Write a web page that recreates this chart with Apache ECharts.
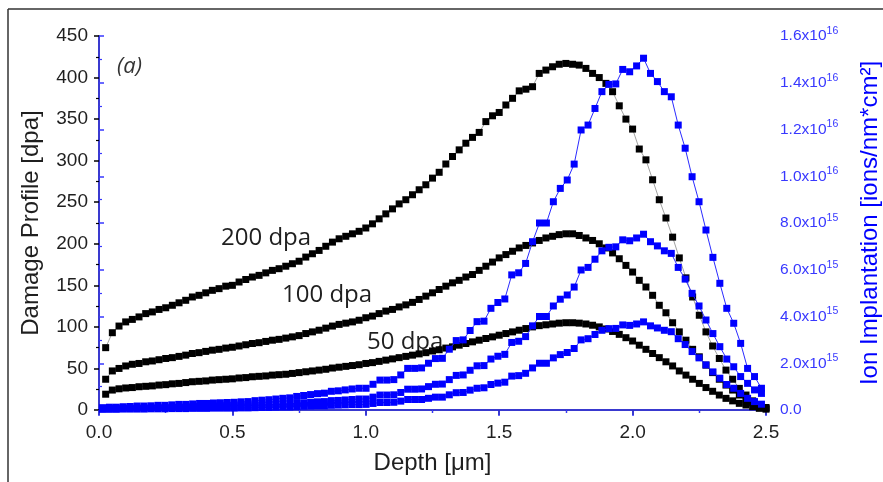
<!DOCTYPE html>
<html><head><meta charset="utf-8">
<script src="https://cdn.jsdelivr.net/npm/echarts@6/dist/echarts.min.js"></script>
<style>html,body{margin:0;padding:0;background:#fff}#c{width:883px;height:482px}</style>
</head><body><div id="c"></div>
<script>
// Depth grid of the damage (dpa) profiles, in micrometres
const depthDamage = [0.025,0.05,0.075,0.1,0.125,0.15,0.175,0.2,0.225,0.25,0.275,0.3,0.325,0.35,0.375,0.4,0.425,0.45,0.475,0.5,
0.525,0.55,0.575,0.6,0.625,0.65,0.675,0.7,0.725,0.75,0.775,0.8,0.825,0.85,0.875,0.9,0.925,0.95,0.975,1.0,
1.025,1.05,1.075,1.1,1.125,1.15,1.175,1.2,1.225,1.25,1.275,1.3,1.325,1.35,1.375,1.4,1.425,1.45,1.475,1.5,
1.525,1.55,1.575,1.6,1.625,1.65,1.675,1.7,1.725,1.75,1.775,1.8,1.825,1.85,1.875,1.9,1.925,1.95,1.975,2.0,
2.025,2.05,2.075,2.1,2.125,2.15,2.175,2.2,2.225,2.25,2.275,2.3,2.325,2.35,2.375,2.4,2.425,2.45,2.475,2.5];
const dpa200 = [75,93,101,106,109,112,116,118,121,123,126,129,132,136,138,141,144,146,149,150,
154,157,160,162,165,168,170,173,176,179,184,188,192,197,202,206,209,212,215,219,
224,230,236,242,248,253,259,265,271,279,286,296,305,313,321,328,334,347,354,358,
367,375,384,386,389,405,409,413,416,417,416,415,411,405,400,393,383,366,350,338,
314,301,277,253,231,208,183,159,136,114,94,77,62,48,37,26,18,11,6,3];
const dpa100 = [37,47,50,53,55,56,58,59,60.5,62,63,64.5,66,68,69,70.5,72,73,74.5,75.5,
77,78.5,80,81,82.5,84,85,86.5,88,89.5,92,94,96,98.5,101,103,104.5,106,108,111,
113,116,119,121,124,126.5,129.5,133,137,141,145,149,153,156,160,163,168,173,178,183,
187,191,195,198,201,204,207,209,211,212,212,210,207,204,200,195,189,182,174,166,
156,148,138,126,117,105,94,84,73,64,54,45,37,30,24,18,13,9,5,2];
const dpa50 = [19,24,25.5,26.5,27,28,28.5,29,30,30.5,31.5,32,33,34,34.5,35,36,36.5,37,37.5,
38.5,39,40,40.5,41,42,42.5,43,44,45,46,47,48,49,50.5,51.5,52.5,53.5,54.5,56,
57,58.5,60,61.5,63,64.5,66,67.5,69,71,72.5,74.5,76,78,80,82,84,86,88,90,
92,94,96,98,100,101.5,102.5,103.5,104.5,105,105,104.5,103.5,102,100,97.5,94.5,91,87,83,
78,73,68,63,58,53,47,42,37,32,27,22.5,18,14,11,8,6,4,2,1];

// Depth grid of the ion implantation profiles, in micrometres
const depthIon = [0.013,0.039,0.065,0.091,0.117,0.143,0.169,0.195,0.221,0.247,0.273,0.299,0.325,0.351,0.377,0.403,0.429,0.455,0.481,0.507,
0.533,0.559,0.585,0.611,0.637,0.663,0.689,0.715,0.741,0.767,0.793,0.819,0.845,0.871,0.897,0.923,0.949,0.975,1.001,1.027,
1.053,1.079,1.105,1.131,1.157,1.183,1.209,1.235,1.261,1.287,1.313,1.339,1.365,1.391,1.417,1.443,1.469,1.495,1.521,1.547,
1.573,1.599,1.625,1.651,1.677,1.703,1.729,1.755,1.781,1.807,1.833,1.859,1.885,1.911,1.937,1.963,1.989,2.015,2.041,2.067,
2.093,2.119,2.145,2.171,2.197,2.223,2.249,2.275,2.301,2.327,2.353,2.379,2.405,2.431,2.457,2.483];
// Ion implantation, in units of 1e15 ions/(nm*cm^2)
const ionHigh = [0.10,0.12,0.12,0.14,0.15,0.17,0.17,0.18,0.20,0.20,0.22,0.24,0.24,0.26,0.28,0.28,0.30,0.31,0.32,0.33,
0.35,0.36,0.40,0.42,0.44,0.47,0.50,0.52,0.58,0.62,0.66,0.70,0.72,0.80,0.82,0.86,0.90,0.93,0.93,1.10,
1.28,1.28,1.30,1.50,1.78,1.78,1.80,2.00,2.20,2.21,2.60,2.97,3.00,3.40,3.78,3.80,4.35,4.60,4.75,5.78,
5.87,6.27,7.20,8.00,8.00,8.91,9.48,9.84,10.52,11.98,12.19,12.90,13.62,13.93,13.95,14.57,14.47,14.72,15.05,14.40,
14.05,13.62,13.40,12.19,11.20,9.98,8.91,7.70,6.53,5.42,4.35,3.71,2.85,1.78,1.43,0.93];
const ionMid = [0.05,0.06,0.06,0.07,0.07,0.08,0.08,0.09,0.10,0.10,0.11,0.12,0.12,0.13,0.14,0.14,0.15,0.15,0.16,0.17,
0.18,0.18,0.20,0.21,0.22,0.24,0.25,0.26,0.29,0.31,0.33,0.35,0.36,0.40,0.41,0.43,0.45,0.47,0.47,0.55,
0.64,0.64,0.65,0.75,0.89,0.89,0.90,1.00,1.10,1.11,1.30,1.48,1.50,1.70,1.89,1.90,2.18,2.30,2.38,2.89,
2.94,3.14,3.60,4.00,4.00,4.45,4.74,4.92,5.26,5.99,6.10,6.45,6.81,6.96,6.98,7.28,7.24,7.36,7.52,7.20,
7.02,6.81,6.70,6.10,5.60,4.99,4.45,3.85,3.27,2.71,2.18,1.85,1.43,1.14,0.86,0.71];
const ionLow = [0.03,0.03,0.03,0.04,0.04,0.04,0.04,0.05,0.05,0.05,0.06,0.06,0.06,0.07,0.07,0.07,0.08,0.08,0.08,0.08,
0.09,0.09,0.10,0.11,0.11,0.12,0.13,0.13,0.15,0.16,0.17,0.18,0.18,0.20,0.21,0.22,0.23,0.23,0.24,0.28,
0.32,0.32,0.33,0.38,0.45,0.45,0.45,0.50,0.55,0.55,0.65,0.74,0.75,0.85,0.93,0.95,1.09,1.15,1.19,1.45,
1.47,1.57,1.80,2.00,2.00,2.23,2.37,2.46,2.63,3.00,3.05,3.23,3.41,3.48,3.49,3.64,3.62,3.68,3.77,3.60,
3.51,3.41,3.35,3.05,2.80,2.50,2.23,1.93,1.63,1.36,1.09,0.93,0.71,0.50,0.36,0.25];

// Tick labels
const xTickLabels = ['0.0','0.5','1.0','1.5','2.0','2.5'];
const rightTickMantissa = ['0.0','2.0','4.0','6.0','8.0','1.0','1.2','1.4','1.6'];
const rightTickExponent = ['','15','15','15','15','16','16','16','16'];
const annotations = ['(a)','200 dpa','100 dpa','50 dpa'];

const BLUE = '#0000ff';
const AXBLUE = '#3838ff';
const TXT = '#1f1f1f';
const SANS = 'Liberation Sans, Arial, sans-serif';

const pairs = (xs, ys) => xs.map((x, i) => [x, ys[i]]);

const blackSeries = (name, vals) => ({
  name, type: 'line', xAxisIndex: 0, yAxisIndex: 0,
  data: pairs(depthDamage, vals),
  symbol: 'rect', symbolSize: 7, showAllSymbol: true,
  itemStyle: { color: '#000' },
  lineStyle: { color: '#8a8a8a', width: 0.8 },
  z: 2
});
const blueSeries = (name, vals) => ({
  name, type: 'line', xAxisIndex: 0, yAxisIndex: 1,
  data: pairs(depthIon, vals),
  symbol: 'rect', symbolSize: 7, showAllSymbol: true,
  itemStyle: { color: BLUE },
  lineStyle: { color: '#2b2bff', width: 1 },
  z: 3
});

const chart = echarts.init(document.getElementById('c'), null, { renderer: 'canvas' });
chart.setOption({
  animation: false,
  backgroundColor: '#fff',
  grid: { left: 99, right: 117, top: 36, bottom: 72, containLabel: false, outerBoundsMode: 'none' },
  xAxis: [{
    type: 'value', position: 'bottom', min: 0, max: 2.5, interval: 0.5,
    name: 'Depth [\u03bcm]', nameLocation: 'middle', nameGap: 41,
    nameTextStyle: { fontFamily: SANS, fontSize: 24, color: TXT },
    axisLine: { show: true, lineStyle: { color: '#000', width: 1.5 } },
    axisTick: { show: true, inside: false, length: 5, lineStyle: { color: '#000', width: 1.5 } },
    minorTick: { show: true, splitNumber: 2, length: 3, lineStyle: { color: '#000', width: 1.2 } },
    axisLabel: { margin: 13, fontFamily: SANS, fontSize: 19, color: TXT,
      formatter: v => xTickLabels[Math.round(v / 0.5)] },
    splitLine: { show: false }
  }, {
    type: 'value', position: 'top', min: 0, max: 2.5, interval: 0.5,
    axisLine: { show: true, lineStyle: { color: AXBLUE, width: 1.5 } },
    axisTick: { show: true, inside: true, length: 6, lineStyle: { color: AXBLUE, width: 1.5 } },
    minorTick: { show: true, splitNumber: 2, length: 3, lineStyle: { color: AXBLUE, width: 1.2 } },
    axisLabel: { show: false },
    splitLine: { show: false }
  }],
  yAxis: [{
    type: 'value', position: 'left', min: 0, max: 450, interval: 50,
    name: 'Damage Profile [dpa]', nameLocation: 'middle', nameGap: 56,
    nameTextStyle: { fontFamily: SANS, fontSize: 24, color: TXT },
    axisLine: { show: true, lineStyle: { color: '#000', width: 1.5 } },
    axisTick: { show: true, inside: false, length: 5, lineStyle: { color: '#000', width: 1.5 } },
    minorTick: { show: true, splitNumber: 2, length: 3, lineStyle: { color: '#000', width: 1.2 } },
    axisLabel: { margin: 11, fontFamily: SANS, fontSize: 19, color: TXT },
    splitLine: { show: false }
  }, {
    type: 'value', position: 'right', min: 0, max: 16, interval: 2,
    name: 'Ion Implantation [ions/nm*cm\u00b2]', nameLocation: 'middle', nameGap: 92,
    nameRotate: 90,
    nameTextStyle: { fontFamily: SANS, fontSize: 24, color: BLUE },
    axisLine: { show: true, lineStyle: { color: AXBLUE, width: 1.5 } },
    axisTick: { show: true, inside: false, length: 5, lineStyle: { color: AXBLUE, width: 1.5 } },
    minorTick: { show: true, splitNumber: 2, length: 3, lineStyle: { color: AXBLUE, width: 1.2 } },
    axisLabel: {
      margin: 14,
      formatter: v => {
        const i = Math.round(v / 2);
        return rightTickExponent[i] ? '{m|' + rightTickMantissa[i] + 'x10}{e|' + rightTickExponent[i] + '}'
                                    : '{m|' + rightTickMantissa[i] + '}';
      },
      rich: {
        m: { fontFamily: SANS, fontSize: 15.5, color: AXBLUE },
        e: { fontFamily: SANS, fontSize: 10.5, color: AXBLUE, padding: [0, 0, 10, 0] }
      }
    },
    splitLine: { show: false }
  }],
  graphic: [
    { type: 'line', shape: { x1: 8, y1: 9, x2: 883, y2: 9 }, style: { stroke: '#333', lineWidth: 1.5 } },
    { type: 'line', shape: { x1: 8, y1: 9, x2: 8, y2: 482 }, style: { stroke: '#333', lineWidth: 1.5 } },
    { type: 'text', style: { x: 117, y: 67, verticalAlign: 'middle', text: annotations[0], font: 'italic 22px "Open Sans"', fill: '#333' } },
    { type: 'text', style: { x: 221, y: 238, verticalAlign: 'middle', text: annotations[1], font: '24px "Open Sans"', fill: TXT } },
    { type: 'text', style: { x: 282, y: 295, verticalAlign: 'middle', text: annotations[2], font: '24px "Open Sans"', fill: TXT } },
    { type: 'text', style: { x: 367, y: 342, verticalAlign: 'middle', text: annotations[3], font: '24px "Open Sans"', fill: TXT } }
  ],
  series: [
    blackSeries('200 dpa', dpa200),
    blackSeries('100 dpa', dpa100),
    blackSeries('50 dpa', dpa50),
    blueSeries('Ion high', ionHigh),
    blueSeries('Ion mid', ionMid),
    blueSeries('Ion low', ionLow)
  ]
});
</script>
</body></html>
